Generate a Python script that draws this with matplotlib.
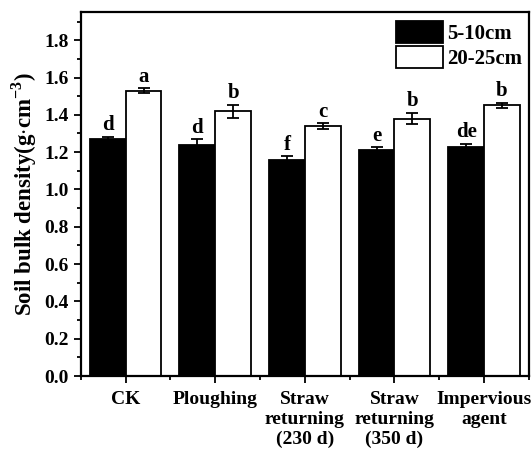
import matplotlib
matplotlib.use("Agg")
import matplotlib.pyplot as plt
import numpy as np
from matplotlib.ticker import MultipleLocator

plt.rcParams['font.family'] = ['Liberation Serif', 'DejaVu Serif']
plt.rcParams['font.weight'] = 'bold'
plt.rcParams['mathtext.fontset'] = 'custom'
plt.rcParams['mathtext.rm'] = 'Liberation Serif:bold'
plt.rcParams['mathtext.bf'] = 'Liberation Serif:bold'

categories = ["CK", "Ploughing", "Straw\nreturning\n(230 d)", "Straw\nreturning\n(350 d)", "Impervious\nagent"]
shallow = [1.27, 1.24, 1.16, 1.21, 1.23]
shallow_err = [0.012, 0.03, 0.018, 0.015, 0.015]
deep = [1.53, 1.42, 1.34, 1.38, 1.45]
deep_err = [0.013, 0.035, 0.015, 0.03, 0.015]
shallow_letters = ["d", "d", "f", "e", "de"]
deep_letters = ["a", "b", "c", "b", "b"]

fig = plt.figure(figsize=(5.32, 4.51), dpi=100)
ax = fig.add_axes([0.152, 0.166, 0.842, 0.807])

x = np.arange(len(categories))
w = 0.4
ekw = dict(ecolor='black', elinewidth=1.3, capsize=4, capthick=1.3)
ax.bar(x - w/2, shallow, w, color='black', edgecolor='black', linewidth=1.3,
       yerr=shallow_err, error_kw=ekw, label='5-10cm')
ax.bar(x + w/2, deep, w, color='white', edgecolor='black', linewidth=1.3,
       yerr=deep_err, error_kw=ekw, label='20-25cm')

for xi, v, e, t in zip(x - w/2, shallow, shallow_err, shallow_letters):
    ax.text(xi, v + e + 0.008, t, ha='center', va='bottom', fontsize=15, fontweight='bold')
for xi, v, e, t in zip(x + w/2, deep, deep_err, deep_letters):
    ax.text(xi, v + e + 0.008, t, ha='center', va='bottom', fontsize=15, fontweight='bold')

ax.set_xlim(-0.5, 4.5)
ax.set_ylim(0, 1.95)
ax.yaxis.set_major_locator(MultipleLocator(0.2))
ax.yaxis.set_minor_locator(MultipleLocator(0.1))
ax.set_xticks(x)
ax.set_xticks(np.arange(-0.5, 5, 1.0), minor=True)
ax.set_xticklabels(categories, fontsize=14, fontweight='bold')
yt = np.arange(0, 1.81, 0.2)
ax.set_yticks(yt)
ax.set_yticklabels([f"{v:.1f}" for v in yt], fontsize=14, fontweight='bold')
ax.tick_params(axis='both', which='major', direction='out', length=5, width=1.3)
ax.tick_params(axis='x', which='major', pad=6)
ax.tick_params(axis='both', which='minor', direction='out', length=3, width=1.3)
for s in ax.spines.values():
    s.set_linewidth(1.6)

ax.set_ylabel(r"Soil bulk density(g$\cdot$cm$^{-3}$)", fontsize=16.5, fontweight='bold', labelpad=4)

leg = ax.legend(loc='upper right', bbox_to_anchor=(0.985, 0.975), fontsize=15, frameon=False,
                handlelength=2.25, handleheight=1.2, handletextpad=0.2, labelspacing=0.12,
                borderaxespad=0.0, borderpad=0.0)

fig.savefig("out.png", dpi=100)
